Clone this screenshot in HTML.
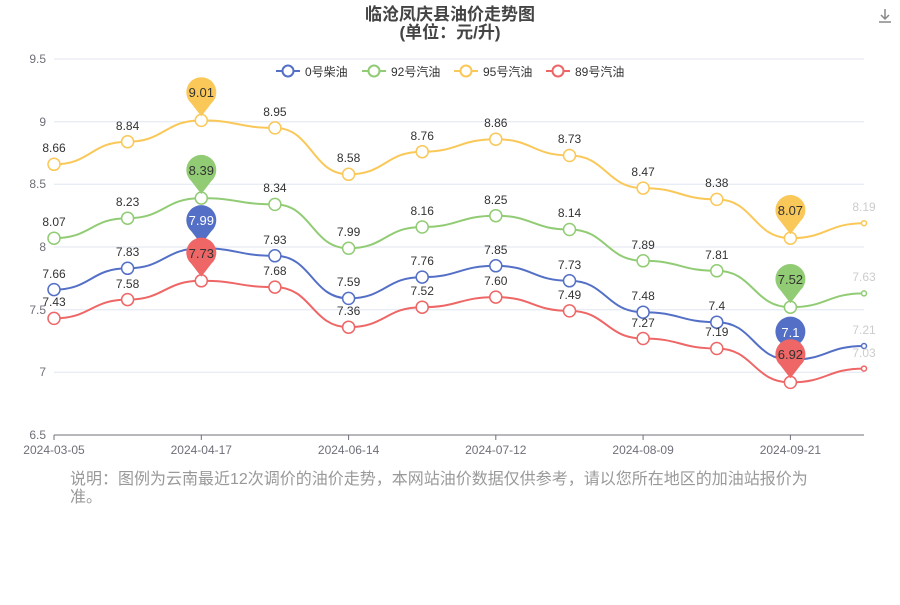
<!DOCTYPE html>
<html><head><meta charset="utf-8"><style>
body{margin:0;background:#fff;width:900px;height:600px;overflow:hidden}
</style></head><body>
<svg width="900" height="600" xmlns="http://www.w3.org/2000/svg" font-family="Liberation Sans, Noto Sans CJK SC, sans-serif">
<text x="450" y="20" text-anchor="middle" font-size="17" font-weight="bold" fill="#444">临沧凤庆县油价走势图</text>
<text x="450" y="38" text-anchor="middle" font-size="17" font-weight="bold" fill="#444">(单位：元/升)</text>
<g stroke="#888" fill="none" stroke-width="1.5"><path d="M885 9v10M881 15l4 4 4-4M879 22h12"/></g>
<g stroke="#e0e6f1"><line x1="54" x2="864" y1="372.3" y2="372.3"/><line x1="54" x2="864" y1="309.7" y2="309.7"/><line x1="54" x2="864" y1="247" y2="247"/><line x1="54" x2="864" y1="184.3" y2="184.3"/><line x1="54" x2="864" y1="121.7" y2="121.7"/><line x1="54" x2="864" y1="59" y2="59"/></g>
<g font-size="12" fill="#6e7079" text-anchor="end"><text x="46" y="439">6.5</text><text x="46" y="376">7</text><text x="46" y="314">7.5</text><text x="46" y="251">8</text><text x="46" y="188">8.5</text><text x="46" y="126">9</text><text x="46" y="63">9.5</text></g>
<line x1="54" x2="864" y1="435" y2="435" stroke="#6e7079"/>
<g stroke="#6e7079"><line x1="54" x2="54" y1="435" y2="440"/><line x1="201.3" x2="201.3" y1="435" y2="440"/><line x1="348.6" x2="348.6" y1="435" y2="440"/><line x1="495.8" x2="495.8" y1="435" y2="440"/><line x1="643.1" x2="643.1" y1="435" y2="440"/><line x1="790.4" x2="790.4" y1="435" y2="440"/></g>
<g font-size="12" fill="#6e7079" text-anchor="middle"><text x="54" y="454">2024-03-05</text><text x="201.3" y="454">2024-04-17</text><text x="348.6" y="454">2024-06-14</text><text x="495.8" y="454">2024-07-12</text><text x="643.1" y="454">2024-08-09</text><text x="790.4" y="454">2024-09-21</text></g>

<g fill="none" stroke-width="2">
<path stroke="#5470c6" d="M54 289.6 C90.8 289.6 90.8 268.3 127.6 268.3 C164.5 268.3 164.5 248.3 201.3 248.3 C238.1 248.3 238.1 255.8 274.9 255.8 C311.8 255.8 311.8 298.4 348.6 298.4 C385.4 298.4 385.4 277.1 422.2 277.1 C459 277.1 459 265.8 495.8 265.8 C532.7 265.8 532.7 280.8 569.5 280.8 C606.3 280.8 606.3 312.2 643.1 312.2 C680 312.2 680 322.2 716.8 322.2 C753.6 322.2 753.6 359.8 790.4 359.8 C827.2 359.8 827.2 346 864 346"/>
<path stroke="#91cc75" d="M54 238.2 C90.8 238.2 90.8 218.2 127.6 218.2 C164.5 218.2 164.5 198.1 201.3 198.1 C238.1 198.1 238.1 204.4 274.9 204.4 C311.8 204.4 311.8 248.3 348.6 248.3 C385.4 248.3 385.4 227 422.2 227 C459 227 459 215.7 495.8 215.7 C532.7 215.7 532.7 229.5 569.5 229.5 C606.3 229.5 606.3 260.8 643.1 260.8 C680 260.8 680 270.8 716.8 270.8 C753.6 270.8 753.6 307.2 790.4 307.2 C827.2 307.2 827.2 293.4 864 293.4"/>
<path stroke="#fac858" d="M54 164.3 C90.8 164.3 90.8 141.7 127.6 141.7 C164.5 141.7 164.5 120.4 201.3 120.4 C238.1 120.4 238.1 127.9 274.9 127.9 C311.8 127.9 311.8 174.3 348.6 174.3 C385.4 174.3 385.4 151.7 422.2 151.7 C459 151.7 459 139.2 495.8 139.2 C532.7 139.2 532.7 155.5 569.5 155.5 C606.3 155.5 606.3 188.1 643.1 188.1 C680 188.1 680 199.4 716.8 199.4 C753.6 199.4 753.6 238.2 790.4 238.2 C827.2 238.2 827.2 223.2 864 223.2"/>
<path stroke="#ee6666" d="M54 318.4 C90.8 318.4 90.8 299.6 127.6 299.6 C164.5 299.6 164.5 280.8 201.3 280.8 C238.1 280.8 238.1 287.1 274.9 287.1 C311.8 287.1 311.8 327.2 348.6 327.2 C385.4 327.2 385.4 307.2 422.2 307.2 C459 307.2 459 297.1 495.8 297.1 C532.7 297.1 532.7 310.9 569.5 310.9 C606.3 310.9 606.3 338.5 643.1 338.5 C680 338.5 680 348.5 716.8 348.5 C753.6 348.5 753.6 382.4 790.4 382.4 C827.2 382.4 827.2 368.6 864 368.6"/>
</g>

<g fill="#fff" stroke-width="1.5">
<g stroke="#5470c6"><circle cx="54" cy="289.6" r="6"/><circle cx="127.6" cy="268.3" r="6"/><circle cx="201.3" cy="248.3" r="6"/><circle cx="274.9" cy="255.8" r="6"/><circle cx="348.6" cy="298.4" r="6"/><circle cx="422.2" cy="277.1" r="6"/><circle cx="495.8" cy="265.8" r="6"/><circle cx="569.5" cy="280.8" r="6"/><circle cx="643.1" cy="312.2" r="6"/><circle cx="716.8" cy="322.2" r="6"/><circle cx="790.4" cy="359.8" r="6"/><circle cx="864" cy="346" r="2.5"/></g>
<g stroke="#91cc75"><circle cx="54" cy="238.2" r="6"/><circle cx="127.6" cy="218.2" r="6"/><circle cx="201.3" cy="198.1" r="6"/><circle cx="274.9" cy="204.4" r="6"/><circle cx="348.6" cy="248.3" r="6"/><circle cx="422.2" cy="227" r="6"/><circle cx="495.8" cy="215.7" r="6"/><circle cx="569.5" cy="229.5" r="6"/><circle cx="643.1" cy="260.8" r="6"/><circle cx="716.8" cy="270.8" r="6"/><circle cx="790.4" cy="307.2" r="6"/><circle cx="864" cy="293.4" r="2.5"/></g>
<g stroke="#fac858"><circle cx="54" cy="164.3" r="6"/><circle cx="127.6" cy="141.7" r="6"/><circle cx="201.3" cy="120.4" r="6"/><circle cx="274.9" cy="127.9" r="6"/><circle cx="348.6" cy="174.3" r="6"/><circle cx="422.2" cy="151.7" r="6"/><circle cx="495.8" cy="139.2" r="6"/><circle cx="569.5" cy="155.5" r="6"/><circle cx="643.1" cy="188.1" r="6"/><circle cx="716.8" cy="199.4" r="6"/><circle cx="790.4" cy="238.2" r="6"/><circle cx="864" cy="223.2" r="2.5"/></g>
<g stroke="#ee6666"><circle cx="54" cy="318.4" r="6"/><circle cx="127.6" cy="299.6" r="6"/><circle cx="201.3" cy="280.8" r="6"/><circle cx="274.9" cy="287.1" r="6"/><circle cx="348.6" cy="327.2" r="6"/><circle cx="422.2" cy="307.2" r="6"/><circle cx="495.8" cy="297.1" r="6"/><circle cx="569.5" cy="310.9" r="6"/><circle cx="643.1" cy="338.5" r="6"/><circle cx="716.8" cy="348.5" r="6"/><circle cx="790.4" cy="382.4" r="6"/><circle cx="864" cy="368.6" r="2.5"/></g>
</g>

<g font-size="12" fill="#333" text-anchor="middle">
<text x="54" y="278">7.66</text><text x="127.6" y="256">7.83</text><text x="274.9" y="244">7.93</text><text x="348.6" y="286">7.59</text><text x="422.2" y="265">7.76</text><text x="495.8" y="254">7.85</text><text x="569.5" y="269">7.73</text><text x="643.1" y="300">7.48</text><text x="716.8" y="310">7.4</text><text x="864" y="334" fill="#ccc">7.21</text>
<text x="54" y="226">8.07</text><text x="127.6" y="206">8.23</text><text x="274.9" y="192">8.34</text><text x="348.6" y="236">7.99</text><text x="422.2" y="215">8.16</text><text x="495.8" y="204">8.25</text><text x="569.5" y="217">8.14</text><text x="643.1" y="249">7.89</text><text x="716.8" y="259">7.81</text><text x="864" y="281" fill="#ccc">7.63</text>
<text x="54" y="152">8.66</text><text x="127.6" y="130">8.84</text><text x="274.9" y="116">8.95</text><text x="348.6" y="162">8.58</text><text x="422.2" y="140">8.76</text><text x="495.8" y="127">8.86</text><text x="569.5" y="143">8.73</text><text x="643.1" y="176">8.47</text><text x="716.8" y="187">8.38</text><text x="864" y="211" fill="#ccc">8.19</text>
<text x="54" y="306">7.43</text><text x="127.6" y="288">7.58</text><text x="274.9" y="275">7.68</text><text x="348.6" y="315">7.36</text><text x="422.2" y="295">7.52</text><text x="495.8" y="285">7.60</text><text x="569.5" y="299">7.49</text><text x="643.1" y="327">7.27</text><text x="716.8" y="336">7.19</text><text x="864" y="357" fill="#ccc">7.03</text>
</g>

<path fill="#5470c6" d="M201.3 244.3 L191.3 231.3 A15 15 0 1 1 211.3 231.3 Z"/>
<path fill="#5470c6" d="M790.4 355.8 L780.4 342.8 A15 15 0 1 1 800.4 342.8 Z"/>
<path fill="#91cc75" d="M201.3 194.1 L191.3 181.1 A15 15 0 1 1 211.3 181.1 Z"/>
<path fill="#91cc75" d="M790.4 303.2 L780.4 290.2 A15 15 0 1 1 800.4 290.2 Z"/>
<path fill="#fac858" d="M201.3 116.4 L191.3 103.4 A15 15 0 1 1 211.3 103.4 Z"/>
<path fill="#fac858" d="M790.4 234.2 L780.4 221.2 A15 15 0 1 1 800.4 221.2 Z"/>
<path fill="#ee6666" d="M201.3 276.8 L191.3 263.8 A15 15 0 1 1 211.3 263.8 Z"/>
<path fill="#ee6666" d="M790.4 378.4 L780.4 365.4 A15 15 0 1 1 800.4 365.4 Z"/>
<g font-size="13" text-anchor="middle" fill="#333">
<text x="201.3" y="225" fill="#fff">7.99</text><text x="790.4" y="337" fill="#fff">7.1</text>
<text x="201.3" y="175">8.39</text><text x="790.4" y="284">7.52</text>
<text x="201.3" y="97">9.01</text><text x="790.4" y="215">8.07</text>
<text x="201.3" y="258">7.73</text><text x="790.4" y="359">6.92</text>
</g>

<g stroke-width="2" fill="#fff">
<line x1="276" x2="300" y1="71" y2="71" stroke="#5470c6"/><circle cx="288" cy="71" r="5.5" stroke="#5470c6"/>
<line x1="362" x2="386" y1="71" y2="71" stroke="#91cc75"/><circle cx="374" cy="71" r="5.5" stroke="#91cc75"/>
<line x1="454" x2="478" y1="71" y2="71" stroke="#fac858"/><circle cx="466" cy="71" r="5.5" stroke="#fac858"/>
<line x1="546" x2="570" y1="71" y2="71" stroke="#ee6666"/><circle cx="558" cy="71" r="5.5" stroke="#ee6666"/>
</g>
<g font-size="12" fill="#333"><text x="305" y="76">0号柴油</text><text x="391" y="76">92号汽油</text><text x="483" y="76">95号汽油</text><text x="575" y="76">89号汽油</text></g>

<text x="70" y="484" font-size="16" fill="#999">说明：图例为云南最近12次调价的油价走势，本网站油价数据仅供参考，请以您所在地区的加油站报价为</text>
<text x="70" y="502" font-size="16" fill="#999">准。</text>
</svg>
</body></html>
